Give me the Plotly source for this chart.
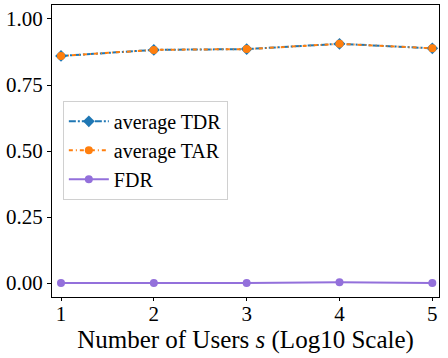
import plotly.graph_objects as go

x_vals = [1, 2, 3, 4, 5]
tdr = [0.860, 0.883, 0.886, 0.906, 0.889]
tar = [0.860, 0.883, 0.886, 0.906, 0.889]
fdr = [0.000, 0.000, 0.000, 0.003, 0.000]
y_ticks = [0.0, 0.25, 0.5, 0.75, 1.0]
y_tick_labels = ["0.00", "0.25", "0.50", "0.75", "1.00"]

font_family = "Liberation Serif"

fig = go.Figure()
fig.add_trace(go.Scatter(x=x_vals, y=tdr, name="average TDR", mode="lines+markers",
                         line=dict(color="#1f77b4", width=2, dash="7px,2px,2px,2px"),
                         marker=dict(symbol="diamond", size=9, color="#1f77b4")))
fig.add_trace(go.Scatter(x=x_vals, y=tar, name="average TAR", mode="lines+markers",
                         line=dict(color="#ff7f0e", width=2, dash="4px,3px,1px,3px"),
                         marker=dict(symbol="circle", size=8, color="#ff7f0e")))
fig.add_trace(go.Scatter(x=x_vals, y=fdr, name="FDR", mode="lines+markers",
                         line=dict(color="#9370db", width=2),
                         marker=dict(symbol="circle", size=8, color="#9370db")))

fig.update_layout(
    width=448, height=358,
    margin=dict(l=52, r=9, t=5, b=61),
    paper_bgcolor="white", plot_bgcolor="white",
    font=dict(family=font_family, size=21, color="black"),
    showlegend=True,
    legend=dict(x=0.028, y=0.672, xanchor="left", yanchor="top",
                bgcolor="rgba(255,255,255,0.8)", bordercolor="#d0d0d0", borderwidth=1,
                font=dict(size=20), tracegroupgap=0, itemwidth=40),
)
fig.update_xaxes(range=[0.903, 5.072], tickvals=x_vals, ticks="outside", ticklen=3,
                 ticklabelstandoff=-5,
                 tickcolor="black", showgrid=False, zeroline=False,
                 showline=True, linecolor="black", mirror=True, linewidth=1,
                 title=dict(text="Number of Users <i>s</i> (Log10 Scale)", standoff=0))
fig.update_yaxes(range=[-0.053, 1.053], tickvals=y_ticks, ticktext=y_tick_labels,
                 ticks="outside", ticklen=4, tickcolor="black", showgrid=False,
                 zeroline=False, showline=True, linecolor="black", mirror=True, linewidth=1)

fig.write_html("out.html", config={"displayModeBar": False},
               post_script="document.body.style.margin='0';")
